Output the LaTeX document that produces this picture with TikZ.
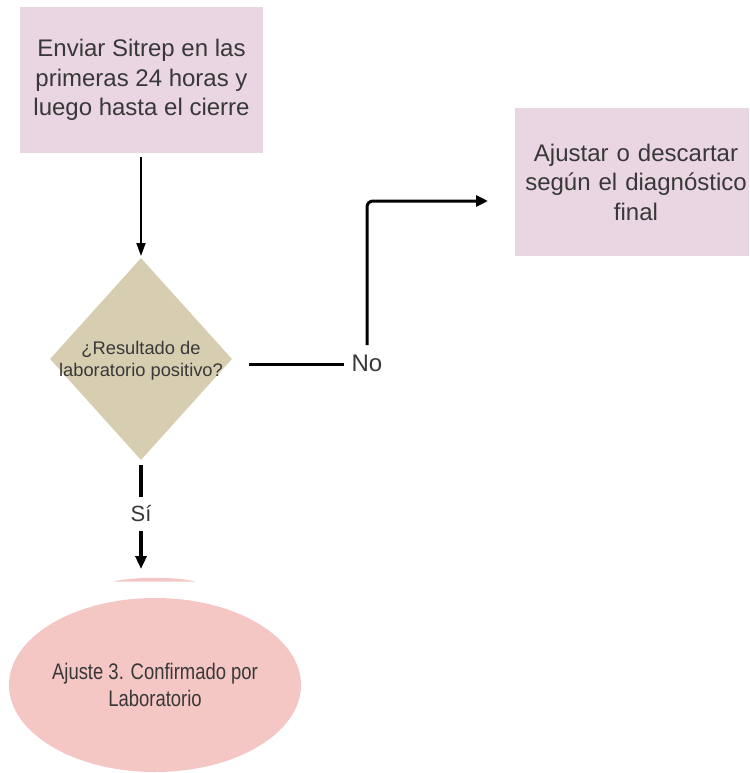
\documentclass[tikz,border=0pt]{standalone}
\usepackage{fontspec}
\setmainfont{Liberation Sans}
\newfontfamily\condfont[FakeStretch=0.82]{Liberation Sans}
\usetikzlibrary{shapes.geometric,arrows.meta}
\definecolor{boxpink}{HTML}{EAD6E3}
\definecolor{diatan}{HTML}{D7CEB1}
\definecolor{ellpink}{HTML}{F5C7C4}
\definecolor{txt}{HTML}{383838}
\tikzset{
  procbox/.style={rectangle, fill=boxpink, inner sep=0pt, align=center, text=txt,
    font=\fontsize{24}{29.5}\selectfont},
  decision/.style={diamond, fill=diatan, inner sep=0pt},
  dtext/.style={inner sep=0pt, align=center, text=txt,
    font=\fontsize{18.3}{22}\selectfont},
  terminal/.style={ellipse, fill=ellpink, inner sep=0pt, align=center, text=txt,
    font=\condfont\fontsize{22.5}{27}\selectfont},
  lbl/.style={inner sep=1pt, text=txt, font=\fontsize{24}{28}\selectfont},
  conn/.style={draw=black, line width=#1},
}
\begin{document}
\begin{tikzpicture}[x=1pt,y=-1pt]
\useasboundingbox (0,0) rectangle (749,773);
% nodes
\node[procbox, minimum width=243pt, minimum height=146pt] (top) at (141.5,80)
  {Enviar Sitrep en las\\primeras 24 horas y\\luego hasta el cierre};
\node[procbox, minimum width=234pt, minimum height=148pt, text width=230pt] (right) at (632,182)
  {\hspace*{8pt}Ajustar o descartar\\\hspace*{8pt}según el diagnóstico\\\hspace*{8pt}final};
\node[decision, minimum width=182pt, minimum height=202pt] (dia) at (141,359) {};
\node[dtext] (diatext) at (141,361) {¿Resultado de\\laboratorio positivo?};
\node[terminal, minimum width=292pt, minimum height=174pt] (ell) at (155,685)
  {Ajuste 3. Confirmado por\\Laboratorio};
% sliver of a shape above the ellipse
\fill[ellpink] (113,581.5) .. controls (135,576.5) and (175,576.5) .. (195,581.5) -- cycle;
% labels
\node[lbl] (no) at (367,363) {No};
\node[lbl, font=\fontsize{22}{26}\selectfont] (si) at (141,514) {Sí};
% coordinates
\coordinate (t1) at (141,157);
\coordinate (t2) at (141,256);
\coordinate (n1) at (249,364);
\coordinate (n2) at (344,364);
\coordinate (n3) at (367,345);
\coordinate (n4) at (488,201);
\coordinate (s1) at (141,465);
\coordinate (s2) at (141,497);
\coordinate (s3) at (141,531);
\coordinate (s4) at (141,569);
% connectors
\draw[conn=1.8pt, -{Triangle[length=13pt,width=9pt]}] (t1) -- (t2);
\draw[conn=3pt] (n1) -- (n2);
\draw[conn=3pt, rounded corners=6pt, -{Triangle[length=12pt,width=11pt]}] (n3) |- (n4);
\draw[conn=4pt] (s1) -- (s2);
\draw[conn=4pt, -{Triangle[length=13pt,width=11pt]}] (s3) -- (s4);
\end{tikzpicture}
\end{document}
